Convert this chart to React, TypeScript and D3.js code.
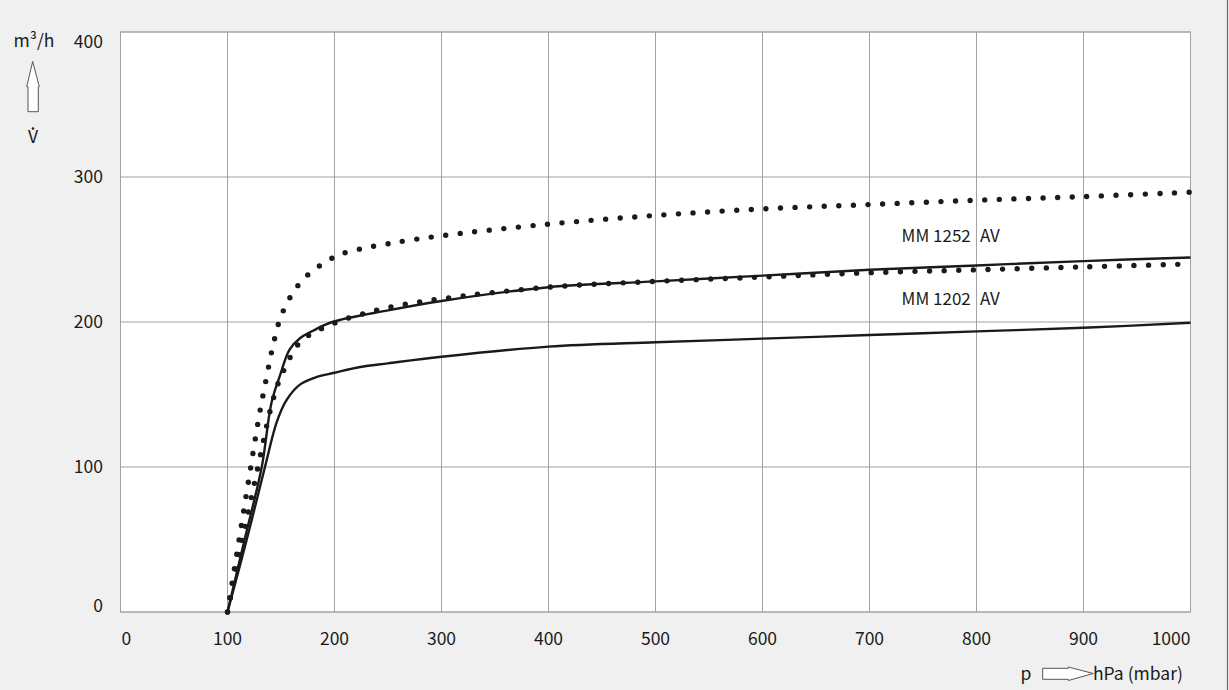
import React from "react";
import * as d3 from "d3";

const xTicks = [0, 100, 200, 300, 400, 500, 600, 700, 800, 900, 1000];
const yTicks = [0, 100, 200, 300, 400];

// MM 1252 AV solid
const p1252Solid = [100, 116, 132, 141, 149, 158, 168, 180, 198, 250, 300, 400, 500, 600, 700, 800, 900, 1000];
const v1252Solid = [0, 50, 100, 144, 163, 181, 189, 194, 200, 208, 214.5, 224, 228, 232, 236, 239, 242, 244.5];

// MM 1202 AV solid
const p1202Solid = [100, 118, 135, 146, 155, 168, 183, 200, 224, 250, 300, 400, 500, 600, 700, 800, 900, 1000];
const v1202Solid = [0, 50, 100, 131, 146, 157, 162, 165, 169, 171.5, 176, 183, 186, 188.5, 191, 193.5, 196, 199.5];

// MM 1252 AV dotted
const p1252Dot = [100, 110, 120, 130, 136, 142, 149, 155, 161, 169, 179, 191, 203, 216, 250, 300, 400, 500, 600, 700, 800, 900, 1000];
const v1252Dot = [0, 46, 92, 137, 160, 182, 202, 212, 220, 228, 235, 241, 246, 249, 254, 259.5, 267.5, 273.5, 278, 281, 284, 286.5, 289.5];

// MM 1202 AV dotted
const p1202Dot = [100, 114, 129, 141, 149, 155, 161, 169, 181, 193, 206, 219, 250, 300, 400, 500, 600, 700, 800, 900, 1000];
const v1202Dot = [0, 50, 102, 142, 161, 170, 179, 187, 193, 197, 201, 204, 210, 216, 224, 228, 231, 234, 236, 238, 240];

const labels = [
  { name: "MM 1252", suffix: "AV", p: 730, v: 255.5 },
  { name: "MM 1202", suffix: "AV", p: 730, v: 212 },
];

const W = 1229;
const H = 690;
const FONT = "'Noto Sans CJK SC', 'Noto Sans', sans-serif";

export default function App() {
  const x = d3.scaleLinear().domain([0, 1000]).range([120.5, 1190.5]);
  const y = d3.scaleLinear().domain([0, 400]).range([612, 32]);

  const line = d3
    .line<[number, number]>()
    .x((d) => x(d[0]))
    .y((d) => y(d[1]))
    .curve(d3.curveCatmullRom.alpha(0.5));

  const zip = (a: number[], b: number[]) => a.map((v, i) => [v, b[i]] as [number, number]);

  const solids = [zip(p1252Solid, v1252Solid), zip(p1202Solid, v1202Solid)];
  const dots = [zip(p1252Dot, v1252Dot), zip(p1202Dot, v1202Dot)];

  return (
    <svg
      width={W}
      height={H}
      style={{ position: "absolute", left: 0, top: 0, background: "#f0f0f0" }}
      fontFamily={FONT}
    >
      <rect x={0} y={0} width={W} height={H} fill="#f0f0f0" />
      <rect x={x(0)} y={y(400)} width={x(1000) - x(0)} height={y(0) - y(400)} fill="#ffffff" />
      {xTicks.map((t) => (
        <line key={"gx" + t} x1={x(t)} x2={x(t)} y1={y(0)} y2={y(400)} stroke="#a3a3a3" strokeWidth={1} />
      ))}
      {yTicks.map((t) => (
        <line key={"gy" + t} x1={x(0)} x2={x(1000)} y1={y(t)} y2={y(t)} stroke="#a3a3a3" strokeWidth={1} />
      ))}
      <rect
        x={x(0)}
        y={y(400)}
        width={x(1000) - x(0)}
        height={y(0) - y(400)}
        fill="none"
        stroke="#a3a3a3"
        strokeWidth={1}
      />

      {solids.map((s, i) => (
        <path key={"s" + i} d={line(s) || ""} fill="none" stroke="#1a1a1a" strokeWidth={2.4} />
      ))}
      {dots.map((s, i) => (
        <path
          key={"d" + i}
          d={line(s) || ""}
          fill="none"
          stroke="#1a1a1a"
          strokeWidth={5.4}
          strokeLinecap="round"
          strokeDasharray="0 14.6"
        />
      ))}

      {labels.map((l) => (
        <g key={l.name} fontSize={17} fill="#1a1a1a">
          <text x={x(l.p)} y={y(l.v)}>{l.name}</text>
          <text x={x(800) + 3.5} y={y(l.v)}>{l.suffix}</text>
        </g>
      ))}

      {xTicks.map((t, i) => (
        <text
          key={"tx" + t}
          x={i === 0 ? x(t) + 1 : x(t)}
          y={645}
          fontSize={17.5}
          fill="#1a1a1a"
          textAnchor={i === 0 ? "start" : i === xTicks.length - 1 ? "end" : "middle"}
        >
          {t}
        </text>
      ))}
      {yTicks.map((t, i) => (
        <text
          key={"ty" + t}
          x={103}
          y={i === 0 ? y(t) : i === yTicks.length - 1 ? y(t) + 15.5 : y(t) + 6}
          fontSize={17.5}
          fill="#1a1a1a"
          textAnchor="end"
        >
          {t}
        </text>
      ))}

      {/* y axis title */}
      <text x={34} y={47} fontSize={17.5} fill="#1a1a1a" textAnchor="middle">
        m³/h
      </text>
      <path
        d="M32.7,61.5 L39.3,86.7 L38.3,86.7 L38.3,111.7 L28,111.7 L28,86.7 L26.7,86.7 Z"
        fill="#ffffff"
        stroke="#555"
        strokeWidth={1}
      />
      <text x={33} y={143} fontSize={17.5} fill="#1a1a1a" textAnchor="middle">
        V
      </text>
      <circle cx={33} cy={128.5} r={1.3} fill="#1a1a1a" />

      {/* x axis title */}
      <text x={1026} y={680} fontSize={17.5} fill="#1a1a1a" textAnchor="middle">
        p
      </text>
      <path
        d="M1042.7,668.3 L1068.3,668.3 L1068.3,667 L1093.3,673.5 L1068.3,680.5 L1068.3,679.3 L1042.7,679.3 Z"
        fill="#ffffff"
        stroke="#555"
        strokeWidth={1}
      />
      <text x={1093} y={680} fontSize={17.5} fill="#1a1a1a">
        hPa (mbar)
      </text>

      <line x1={1227.5} x2={1227.5} y1={0} y2={H} stroke="#6a6a6a" strokeWidth={1.2} />
    </svg>
  );
}
